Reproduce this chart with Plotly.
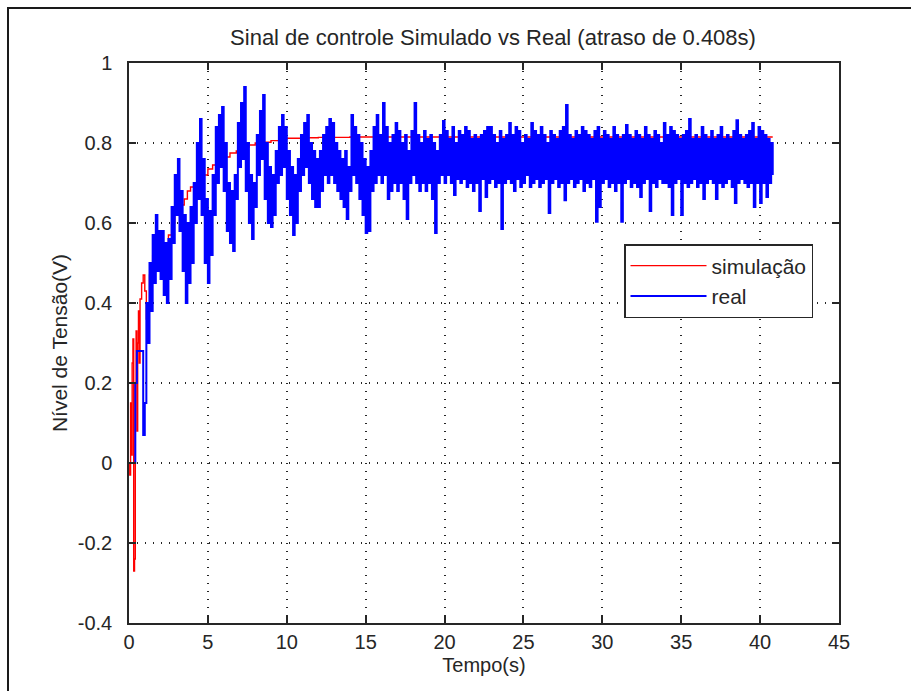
import plotly.graph_objects as go

# ---------------- data ----------------
title_text = "Sinal de controle Simulado vs Real (atraso de 0.408s)"
x_label = "Tempo(s)"
y_label = "Nível de Tensão(V)"
series_names = ["simulação", "real"]

x_ticks = [0, 5, 10, 15, 20, 25, 30, 35, 40, 45]
y_ticks = [-0.4, -0.2, 0, 0.2, 0.4, 0.6, 0.8, 1]
y_tick_labels = ["-0.4", "-0.2", "0", "0.2", "0.4", "0.6", "0.8", "1"]

# simulated control signal (red)
sim_t = [0, 0.05, 0.1, 0.15, 0.2, 0.25, 0.3, 0.35, 0.4, 0.45, 0.5, 0.55, 0.6, 0.65,
         0.7, 0.8, 0.9, 1.0, 1.1, 1.2, 1.3, 1.4, 1.5, 1.7, 2.0, 2.3, 2.5, 2.7, 2.9,
         3.1, 3.3, 3.5, 3.7, 3.9, 4.1, 4.4, 4.7, 5.0, 5.3, 5.6, 6.0, 6.4, 6.8, 7.2,
         7.6, 8.0, 8.5, 9.0, 9.5, 10.0, 11.0, 12.0, 14.0, 20.0, 30.0, 40.8]
sim_v = [0.00, -0.03, 0.15, 0.02, 0.25, 0.31, -0.27, -0.24, 0.20, 0.33, 0.08, 0.30, 0.38, 0.25,
         0.41, 0.45, 0.47, 0.43, 0.36, 0.40, 0.47, 0.50, 0.52, 0.53, 0.53, 0.54, 0.57, 0.60, 0.63,
         0.64, 0.645, 0.66, 0.68, 0.69, 0.70, 0.71, 0.72, 0.735, 0.745, 0.755, 0.765, 0.775, 0.78, 0.79,
         0.795, 0.80, 0.802, 0.806, 0.81, 0.812, 0.813, 0.814, 0.815, 0.815, 0.815, 0.815]

# measured control signal (blue), sampled every 0.1 s from t = 0
real_t0 = 0.0
real_dt = 0.1
real_v = [
    0.00, 0.00, 0.00, 0.00, 0.20, 0.28, 0.28, 0.28, 0.28, 0.07,
    0.15, 0.40, 0.30, 0.50, 0.38, 0.57, 0.45, 0.62, 0.48, 0.58,
    0.46, 0.58, 0.42, 0.55, 0.40, 0.56, 0.46, 0.64, 0.55, 0.72,
    0.62, 0.76, 0.58, 0.68, 0.48, 0.62, 0.40, 0.60, 0.45, 0.64,
    0.50, 0.70, 0.60, 0.80, 0.66, 0.86, 0.62, 0.76, 0.50, 0.66,
    0.45, 0.63, 0.52, 0.72, 0.62, 0.84, 0.70, 0.87, 0.74, 0.89,
    0.68, 0.80, 0.58, 0.70, 0.55, 0.68, 0.53, 0.72, 0.66, 0.85,
    0.74, 0.90, 0.76, 0.94, 0.68, 0.80, 0.60, 0.72, 0.56, 0.70,
    0.64, 0.82, 0.72, 0.88, 0.76, 0.92, 0.66, 0.80, 0.60, 0.74,
    0.59, 0.72, 0.62, 0.78, 0.70, 0.84, 0.72, 0.87, 0.74, 0.84,
    0.66, 0.78, 0.62, 0.74, 0.57, 0.72, 0.60, 0.76, 0.68, 0.82,
    0.72, 0.85, 0.74, 0.87, 0.70, 0.80, 0.66, 0.78, 0.64, 0.76,
    0.64, 0.78, 0.68, 0.82, 0.72, 0.84, 0.70, 0.86, 0.72, 0.85,
    0.70, 0.80, 0.68, 0.78, 0.66, 0.76, 0.64, 0.78, 0.61, 0.74,
    0.68, 0.87, 0.72, 0.84, 0.70, 0.82, 0.66, 0.80, 0.62, 0.76,
    0.575, 0.74, 0.58, 0.78, 0.68, 0.84, 0.70, 0.87, 0.72, 0.82,
    0.70, 0.90, 0.72, 0.84, 0.66, 0.80, 0.68, 0.82, 0.70, 0.85,
    0.68, 0.83, 0.70, 0.80, 0.66, 0.82, 0.61, 0.78, 0.70, 0.83,
    0.72, 0.90, 0.70, 0.82, 0.68, 0.80, 0.70, 0.83, 0.68, 0.81,
    0.70, 0.82, 0.66, 0.80, 0.575, 0.78, 0.70, 0.82, 0.72, 0.855,
    0.70, 0.83, 0.72, 0.81, 0.70, 0.84, 0.67, 0.80, 0.71, 0.83,
    0.70, 0.82, 0.71, 0.84, 0.69, 0.83, 0.70, 0.81, 0.68, 0.82,
    0.70, 0.81, 0.63, 0.82, 0.71, 0.83, 0.665, 0.84, 0.70, 0.84,
    0.71, 0.82, 0.69, 0.80, 0.70, 0.83, 0.585, 0.81, 0.70, 0.82,
    0.71, 0.85, 0.70, 0.82, 0.68, 0.84, 0.71, 0.83, 0.69, 0.80,
    0.70, 0.82, 0.72, 0.81, 0.69, 0.85, 0.70, 0.83, 0.71, 0.82,
    0.69, 0.84, 0.70, 0.82, 0.71, 0.80, 0.625, 0.83, 0.70, 0.82,
    0.71, 0.81, 0.69, 0.83, 0.70, 0.84, 0.657, 0.895, 0.70, 0.82,
    0.71, 0.81, 0.69, 0.83, 0.70, 0.82, 0.71, 0.84, 0.68, 0.83,
    0.70, 0.82, 0.69, 0.81, 0.71, 0.83, 0.603, 0.84, 0.64, 0.81,
    0.70, 0.83, 0.71, 0.82, 0.69, 0.81, 0.70, 0.84, 0.68, 0.82,
    0.70, 0.81, 0.603, 0.82, 0.70, 0.845, 0.71, 0.82, 0.69, 0.81,
    0.70, 0.83, 0.69, 0.82, 0.665, 0.81, 0.70, 0.84, 0.71, 0.82,
    0.63, 0.81, 0.70, 0.83, 0.69, 0.82, 0.71, 0.80, 0.70, 0.85,
    0.70, 0.82, 0.69, 0.84, 0.62, 0.83, 0.70, 0.82, 0.71, 0.81,
    0.62, 0.82, 0.70, 0.83, 0.69, 0.86, 0.70, 0.81, 0.71, 0.82,
    0.69, 0.81, 0.70, 0.84, 0.66, 0.82, 0.70, 0.81, 0.71, 0.83,
    0.70, 0.81, 0.66, 0.82, 0.70, 0.84, 0.69, 0.81, 0.70, 0.82,
    0.71, 0.81, 0.69, 0.83, 0.65, 0.857, 0.70, 0.82, 0.71, 0.81,
    0.70, 0.82, 0.69, 0.83, 0.70, 0.85, 0.64, 0.81, 0.70, 0.84,
    0.65, 0.83, 0.70, 0.82, 0.665, 0.81, 0.70, 0.80, 0.72,
]
real_t = [round(real_t0 + i * real_dt, 2) for i in range(len(real_v))]

# ---------------- figure ----------------
W, H = 911, 691
L, R, T, B = 129, 72, 63, 68
FONT = "Liberation Sans, Arial, sans-serif"
INK = "#262626"

fig = go.Figure()
fig.add_trace(go.Scatter(x=sim_t, y=sim_v, mode="lines", name=series_names[0],
                         line=dict(color="#ff0000", width=1.4, shape="hv")))
fig.add_trace(go.Scatter(x=real_t, y=real_v, mode="lines", name=series_names[1],
                         line=dict(color="#0000ff", width=2.0, shape="hv")))

axis_common = dict(
    showline=True, linecolor=INK, linewidth=1.5, mirror="ticks",
    ticks="inside", ticklen=7, tickwidth=1.5, tickcolor=INK,
    showgrid=True, gridcolor=INK, gridwidth=1.5, griddash="1px,7px",
    zeroline=False,
    tickfont=dict(family=FONT, size=20, color=INK),
)

fig.update_xaxes(range=[0, 45], tickvals=x_ticks, ticktext=[str(v) for v in x_ticks],
                 ticklabelstandoff=0,
                 title=dict(text=x_label, font=dict(family=FONT, size=20, color=INK), standoff=6),
                 **axis_common)
fig.update_yaxes(range=[-0.4, 1], tickvals=y_ticks, ticktext=y_tick_labels,
                 ticklabelstandoff=11,
                 title=dict(text=y_label, font=dict(family=FONT, size=21, color=INK), standoff=4),
                 **axis_common)

# outer figure frame
def px_x(p):
    return (p - L) / (W - L - R)

def px_y(p):
    return (H - B - p) / (H - T - B)

fig.add_shape(type="rect", xref="paper", yref="paper",
              x0=px_x(8), x1=px_x(925), y0=px_y(705), y1=px_y(8),
              line=dict(color="#1a1a1a", width=2), fillcolor="rgba(0,0,0,0)", layer="below")

fig.update_layout(
    width=W, height=H,
    margin=dict(l=L, r=R, t=T, b=B, autoexpand=False),
    paper_bgcolor="white", plot_bgcolor="white",
    title=dict(text=title_text, x=493 / W, xanchor="center", y=1 - 37 / H, yanchor="middle",
               font=dict(family=FONT, size=22, color=INK)),
    showlegend=True,
    legend=dict(x=px_x(624), y=px_y(244), xanchor="left", yanchor="top",
                bordercolor=INK, borderwidth=1.5, bgcolor="white",
                font=dict(family=FONT, size=21, color=INK),
                itemwidth=76, tracegroupgap=0),
)

fig.write_html("out.html")
